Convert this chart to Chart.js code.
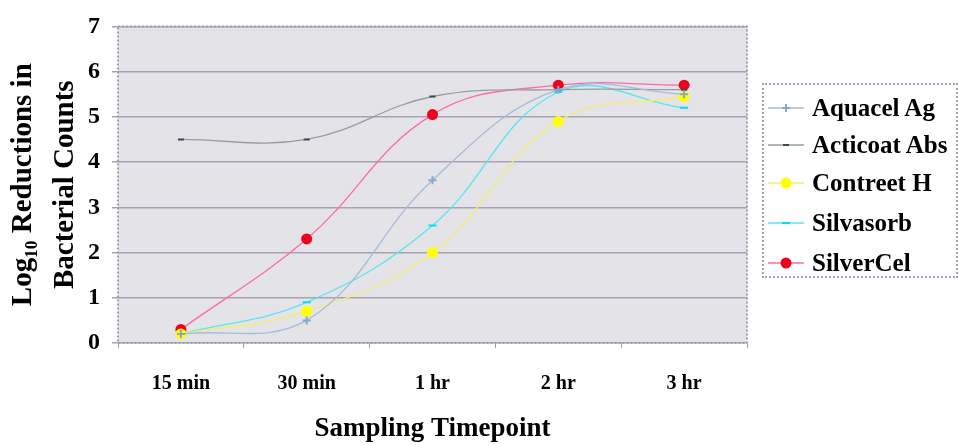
<!DOCTYPE html>
<html>
<head>
<meta charset="utf-8">
<script src="https://cdn.jsdelivr.net/npm/chart.js@4.4.1/dist/chart.umd.min.js"></script>
<style>
  html, body { margin: 0; padding: 0; background: #ffffff; }
  #wrap { position: relative; width: 959px; height: 445px; }
  #legend {
    position: absolute; left: 762px; top: 83px; width: 196px; height: 195px;
    border: 2px dotted #9aa0c0; box-sizing: border-box;
    font-family: "Liberation Serif", "Times New Roman", serif; font-weight: bold;
    font-size: 25px; color: #000;
  }
  #legend div { position: absolute; left: 48px; white-space: nowrap; line-height: 28px; }
</style>
</head>
<body>
<div id="wrap">
  <canvas id="c" width="959" height="445"></canvas>
  <div id="legend"></div>
</div>
<script>
const categories = ['15 min', '30 min', '1 hr', '2 hr', '3 hr'];
const seriesNames = ['Aquacel Ag', 'Acticoat Abs', 'Contreet H', 'Silvasorb', 'SilverCel'];
const aquacelAg   = [0.2, 0.5, 3.6, 5.6, 5.5];
const acticoatAbs = [4.5, 4.5, 5.45, 5.6, 5.6];
const contreetH   = [0.2, 0.7, 2.0, 4.9, 5.45];
const silvasorb   = [0.2, 0.9, 2.6, 5.55, 5.2];
const silverCel   = [0.3, 2.3, 5.05, 5.7, 5.7];
const yTicks = [0, 1, 2, 3, 4, 5, 6, 7];

const serif = '"Liberation Serif", "Times New Roman", serif';

const styles = [
  { line: '#a6bcd8', point: '#8aa6c8', style: 'cross', r: 4 },
  { line: '#959ea3', point: '#3a4a50', style: 'line', r: 3 },
  { line: '#f2ee70', point: '#ffff00', style: 'circle', r: 5.5 },
  { line: '#5ae6ee', point: '#00e0f0', style: 'line', r: 4 },
  { line: '#ff6aa8', point: '#f00020', style: 'circle', r: 5.5 }
];
const values = [aquacelAg, acticoatAbs, contreetH, silvasorb, silverCel];

const datasets = values.map((v, i) => ({
  label: seriesNames[i],
  data: v,
  borderColor: styles[i].line,
  backgroundColor: styles[i].point,
  pointBackgroundColor: styles[i].point,
  pointBorderColor: styles[i].point,
  pointBorderWidth: styles[i].style === 'circle' ? 0 : 2,
  pointStyle: styles[i].style,
  pointRadius: styles[i].r,
  borderWidth: 1.3,
  tension: 0.4,
  fill: false
}));

const legendRows = [108, 145, 183, 223, 263];

const areaPlugin = {
  id: 'area',
  beforeDraw(chart) {
    const { ctx, chartArea: a } = chart;
    ctx.save();
    ctx.fillStyle = '#e4e3e8';
    ctx.fillRect(a.left, a.top, a.right - a.left, a.bottom - a.top);
    ctx.restore();
  },
  afterDatasetsDraw(chart) {
    const { ctx, chartArea: a } = chart;
    ctx.save();
    ctx.strokeStyle = '#a49cb0';
    ctx.lineWidth = 2;
    ctx.setLineDash([2, 2]);
    ctx.strokeRect(a.left, a.top, a.right - a.left, a.bottom - a.top);
    ctx.restore();
    // legend swatches
    const legLeft = 762;
    datasets.forEach((d, i) => {
      const y = legendRows[i];
      const cx = legLeft + 24;
      ctx.save();
      ctx.strokeStyle = d.borderColor;
      ctx.lineWidth = 1.3;
      ctx.beginPath();
      ctx.moveTo(legLeft + 6, y);
      ctx.lineTo(legLeft + 42, y);
      ctx.stroke();
      ctx.fillStyle = d.pointBackgroundColor;
      ctx.strokeStyle = d.pointBorderColor;
      ctx.lineWidth = d.pointBorderWidth || 1;
      ctx.beginPath();
      if (d.pointStyle === 'circle') {
        ctx.arc(cx, y, d.pointRadius, 0, Math.PI * 2);
        ctx.fill();
      } else if (d.pointStyle === 'line') {
        ctx.moveTo(cx - d.pointRadius, y);
        ctx.lineTo(cx + d.pointRadius, y);
        ctx.stroke();
      } else {
        ctx.moveTo(cx - d.pointRadius, y);
        ctx.lineTo(cx + d.pointRadius, y);
        ctx.moveTo(cx, y - d.pointRadius);
        ctx.lineTo(cx, y + d.pointRadius);
        ctx.stroke();
      }
      ctx.restore();
    });
  }
};

new Chart(document.getElementById('c'), {
  type: 'line',
  data: { labels: categories, datasets },
  plugins: [areaPlugin],
  options: {
    responsive: false,
    animation: false,
    layout: { padding: { top: 22, right: 212, left: 0, bottom: 0 } },
    plugins: { legend: { display: false }, tooltip: { enabled: false } },
    scales: {
      x: {
        type: 'category',
        offset: true,
        grid: { drawOnChartArea: false, offset: true, tickLength: 5, color: '#a49cb0', lineWidth: 1 },
        border: { display: false },
        ticks: { color: '#000', padding: 24, font: { family: serif, weight: 'bold', size: 20 } },
        title: { display: true, text: 'Sampling Timepoint', color: '#000',
                 padding: { top: 0, bottom: 0 },
                 font: { family: serif, weight: 'bold', size: 27, lineHeight: 1.2 } },
        afterFit(s) { s.height = 102; }
      },
      y: {
        min: 0, max: 7,
        afterBuildTicks(s) { s.ticks = yTicks.map(v => ({ value: v })); },
        grid: { color: '#aaa2b4', lineWidth: 1.5, tickLength: 6 },
        border: { display: false },
        ticks: { color: '#000', padding: 12, font: { family: serif, weight: 'bold', size: 24 } },
        title: { display: true, text: ['Log\u2081\u2080 Reductions in', 'Bacterial Counts'], color: '#000',
                 padding: { top: 2, bottom: 0 },
                 font: { family: serif, weight: 'bold', size: 29, lineHeight: 1.45 } },
        afterFit(s) { s.width = 118; }
      }
    }
  }
});

const leg = document.getElementById('legend');
seriesNames.forEach((n, i) => {
  const d = document.createElement('div');
  d.textContent = n;
  d.style.top = (legendRows[i] - 83 - 2 - 14) + 'px';
  leg.appendChild(d);
});
</script>
</body>
</html>
